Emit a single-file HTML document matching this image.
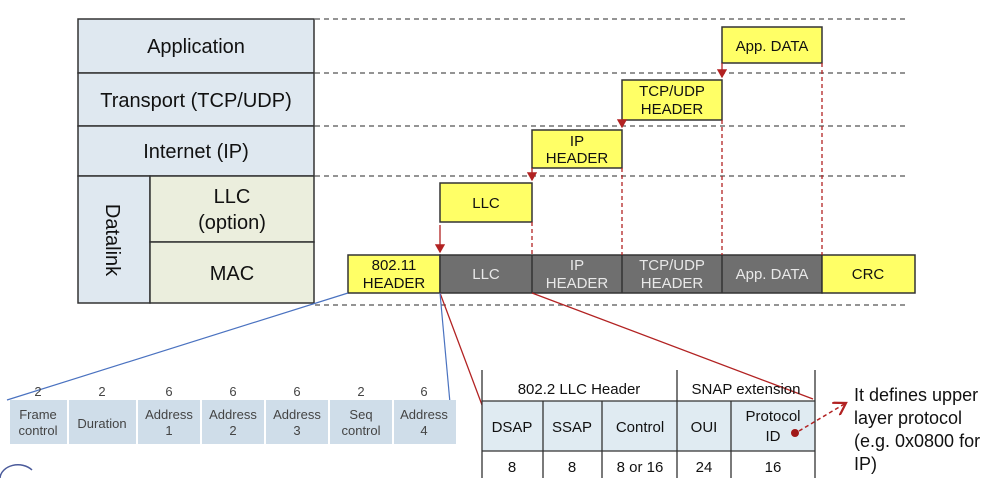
<!DOCTYPE html>
<html><head><meta charset="utf-8"><style>
body{margin:0;width:987px;height:478px;background:#fff;overflow:hidden;font-family:"Liberation Sans",sans-serif}
</style></head><body>
<svg width="987" height="478" xmlns="http://www.w3.org/2000/svg" font-family="Liberation Sans, sans-serif">
<defs><marker id="a" markerWidth="8" markerHeight="8" refX="6" refY="4" orient="auto"><path d="M0,0 L7,4 L0,8z" fill="#b22222"/></marker>
<marker id="o" markerWidth="10" markerHeight="10" refX="8" refY="5" orient="auto"><path d="M0,0 L8,5 L0,10" fill="none" stroke="#b22222" stroke-width="1.5"/></marker></defs>
<g stroke="#555" stroke-dasharray="5,4" stroke-width="1.2">
<line x1="315" y1="19" x2="905" y2="19"/><line x1="315" y1="73" x2="905" y2="73"/><line x1="315" y1="126" x2="905" y2="126"/><line x1="315" y1="176" x2="905" y2="176"/><line x1="315" y1="305" x2="905" y2="305"/></g>
<g stroke="#333" stroke-width="1.5">
<rect x="78" y="19" width="236" height="54" fill="#dfe8f0"/>
<rect x="78" y="73" width="236" height="53" fill="#dfe8f0"/>
<rect x="78" y="126" width="236" height="50" fill="#dfe8f0"/>
<rect x="78" y="176" width="72" height="127" fill="#dfe8f0"/>
<rect x="150" y="176" width="164" height="66" fill="#ebeedd"/>
<rect x="150" y="242" width="164" height="61" fill="#ebeedd"/></g>
<g font-size="20" fill="#111" text-anchor="middle">
<text x="196" y="53">Application</text><text x="196" y="107">Transport (TCP/UDP)</text><text x="196" y="158">Internet (IP)</text>
<text x="232" y="203">LLC</text><text x="232" y="229">(option)</text><text x="232" y="280">MAC</text>
<text transform="translate(106,240) rotate(90)">Datalink</text></g>
<g stroke="#333" stroke-width="1.5">
<rect x="722" y="27" width="100" height="36" fill="#ffff66"/><rect x="622" y="80" width="100" height="40" fill="#ffff66"/>
<rect x="532" y="130" width="90" height="38" fill="#ffff66"/><rect x="440" y="183" width="92" height="39" fill="#ffff66"/>
<rect x="348" y="255" width="92" height="38" fill="#ffff66"/>
<rect x="440" y="255" width="382" height="38" fill="#6f6f6f"/>
<line x1="532" y1="255" x2="532" y2="293"/><line x1="622" y1="255" x2="622" y2="293"/><line x1="722" y1="255" x2="722" y2="293"/>
<rect x="822" y="255" width="93" height="38" fill="#ffff66"/></g>
<g font-size="15" text-anchor="middle" fill="#111">
<text x="772" y="51">App. DATA</text><text x="672" y="96">TCP/UDP</text><text x="672" y="114">HEADER</text>
<text x="577" y="146">IP</text><text x="577" y="163">HEADER</text><text x="486" y="208">LLC</text>
<text x="394" y="270">802.11</text><text x="394" y="288">HEADER</text><text x="868" y="279">CRC</text></g>
<g font-size="15" text-anchor="middle" fill="#e8e8e8">
<text x="486" y="279">LLC</text><text x="577" y="270">IP</text><text x="577" y="288">HEADER</text>
<text x="672" y="270">TCP/UDP</text><text x="672" y="288">HEADER</text><text x="772" y="279">App. DATA</text></g>
<g stroke="#b22222" stroke-width="1.3">
<line x1="440" y1="225" x2="440" y2="252" marker-end="url(#a)"/><line x1="532" y1="168" x2="532" y2="180" marker-end="url(#a)"/>
<line x1="622" y1="120" x2="622" y2="127" marker-end="url(#a)"/><line x1="722" y1="63" x2="722" y2="77" marker-end="url(#a)"/>
<g stroke-dasharray="4,3"><line x1="532" y1="222" x2="532" y2="255"/><line x1="622" y1="168" x2="622" y2="255"/><line x1="722" y1="120" x2="722" y2="255"/><line x1="822" y1="63" x2="822" y2="255"/></g>
<line x1="440" y1="293" x2="482" y2="405"/><line x1="532" y1="293" x2="813" y2="399"/></g>
<g stroke="#4a72c0" stroke-width="1.2"><line x1="348" y1="293" x2="7" y2="400"/><line x1="440" y1="293" x2="450" y2="403"/></g>
<g fill="#cfdde9">
<rect x="10" y="400" width="57" height="44"/><rect x="69" y="400" width="67" height="44"/><rect x="138" y="400" width="62" height="44"/>
<rect x="202" y="400" width="62" height="44"/><rect x="266" y="400" width="62" height="44"/><rect x="330" y="400" width="62" height="44"/><rect x="394" y="400" width="62" height="44"/></g>
<g font-size="13" fill="#444" text-anchor="middle">
<text x="38" y="396">2</text><text x="102" y="396">2</text><text x="169" y="396">6</text><text x="233" y="396">6</text><text x="297" y="396">6</text><text x="361" y="396">2</text><text x="424" y="396">6</text>
<text x="38" y="419">Frame</text><text x="38" y="435">control</text><text x="102" y="428">Duration</text>
<text x="169" y="419">Address</text><text x="169" y="435">1</text><text x="233" y="419">Address</text><text x="233" y="435">2</text>
<text x="297" y="419">Address</text><text x="297" y="435">3</text><text x="361" y="419">Seq</text><text x="361" y="435">control</text>
<text x="424" y="419">Address</text><text x="424" y="435">4</text></g>
<rect x="482" y="401" width="333" height="50" fill="#e0ebf2"/>
<g stroke="#333" stroke-width="1.3">
<line x1="482" y1="370" x2="482" y2="478"/><line x1="815" y1="370" x2="815" y2="478"/><line x1="677" y1="370" x2="677" y2="478"/>
<line x1="543" y1="401" x2="543" y2="478"/><line x1="602" y1="401" x2="602" y2="478"/><line x1="731" y1="401" x2="731" y2="478"/>
<line x1="482" y1="401" x2="815" y2="401"/><line x1="482" y1="451" x2="815" y2="451"/></g>
<g font-size="15" fill="#111" text-anchor="middle">
<text x="579" y="394">802.2 LLC Header</text><text x="746" y="394">SNAP extension</text>
<text x="512" y="432">DSAP</text><text x="572" y="432">SSAP</text><text x="640" y="432">Control</text><text x="704" y="432">OUI</text>
<text x="773" y="421">Protocol</text><text x="773" y="441">ID</text>
<text x="512" y="472">8</text><text x="572" y="472">8</text><text x="640" y="472">8 or 16</text><text x="704" y="472">24</text><text x="773" y="472">16</text></g>
<circle cx="795" cy="433" r="4" fill="#a01818"/>
<line x1="799" y1="431" x2="846" y2="403" stroke="#b22222" stroke-width="1.5" stroke-dasharray="4,3" marker-end="url(#o)"/>
<g font-size="18" fill="#111"><text x="854" y="401">It defines upper</text><text x="854" y="424">layer protocol</text><text x="854" y="447">(e.g. 0x0800 for</text><text x="854" y="470">IP)</text></g>
<path d="M0,478 A18,14 0 0 1 32,470" fill="none" stroke="#4a5a9a" stroke-width="1.5"/>
</svg>
</body></html>
